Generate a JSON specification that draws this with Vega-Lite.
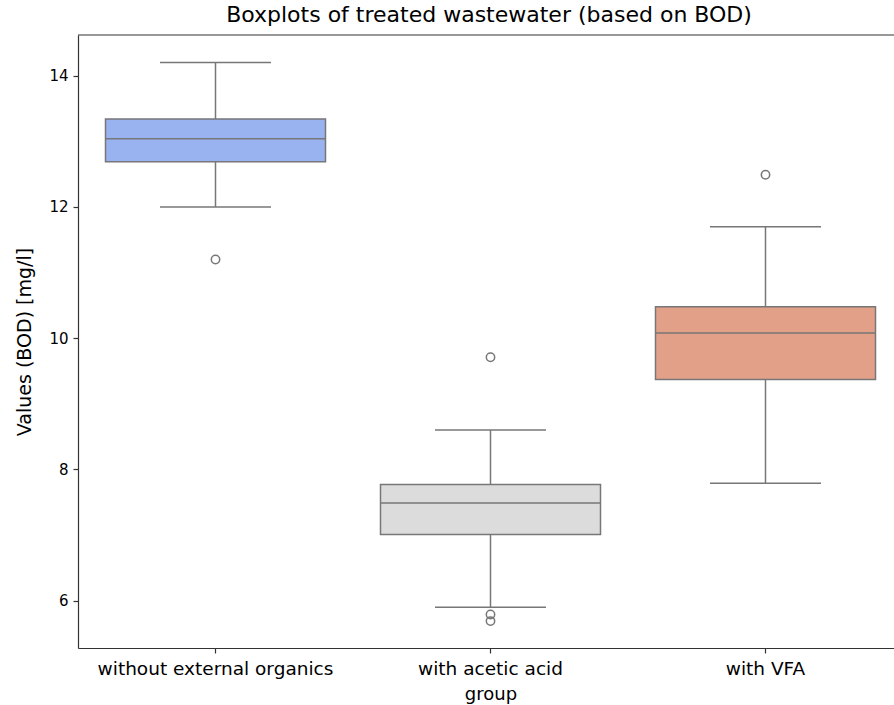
{
  "$schema": "https://vega.github.io/schema/vega-lite/v6.json",
  "width": 816,
  "height": 613,
  "autosize": {"type": "none"},
  "padding": {"left": 78, "top": 35, "right": 0, "bottom": 57},
  "background": "white",
  "title": {"text": "Boxplots of treated wastewater (based on BOD)", "font": "DejaVu Sans", "fontSize": 22, "fontWeight": "normal", "color": "#000000", "anchor": "middle", "offset": 7, "dx": 3},
  "config": {
    "view": {"stroke": null},
    "axis": {"labelFont": "DejaVu Sans", "titleFont": "DejaVu Sans", "labelColor": "#000000", "titleColor": "#000000", "titleFontWeight": "normal", "domainColor": "#333333", "tickColor": "#333333", "domainWidth": 1.2, "tickWidth": 1.2, "tickSize": 5, "grid": false}
  },
  "datasets": {
    "summary": [
      {"group": "without external organics", "lower": 12.0, "q1": 12.69, "median": 13.04, "q3": 13.34, "upper": 14.2},
      {"group": "with acetic acid", "lower": 5.9, "q1": 7.01, "median": 7.49, "q3": 7.77, "upper": 8.6},
      {"group": "with VFA", "lower": 7.79, "q1": 9.37, "median": 10.08, "q3": 10.48, "upper": 11.7}
    ],
    "outliers": [
      {"group": "without external organics", "value": 11.2},
      {"group": "with acetic acid", "value": 9.71},
      {"group": "with acetic acid", "value": 5.79},
      {"group": "with acetic acid", "value": 5.69},
      {"group": "with VFA", "value": 12.49}
    ],
    "frame": [{"top": 14.62}]
  },
  "encoding": {
    "x": {
      "field": "group", "type": "nominal",
      "sort": ["without external organics", "with acetic acid", "with VFA"],
      "scale": {"domain": ["without external organics", "with acetic acid", "with VFA"], "range": [0, 825], "paddingInner": 0, "paddingOuter": 0},
      "axis": {"title": "group", "labelAngle": 0, "labelFontSize": 18.5, "titleFontSize": 18, "labelPadding": 6, "titlePadding": 8, "labelLimit": 0}
    }
  },
  "layer": [
    {
      "data": {"name": "summary"},
      "mark": {"type": "rule", "color": "#777777", "strokeWidth": 1.5},
      "encoding": {
        "y": {"field": "lower", "type": "quantitative", "scale": {"domain": [5.28, 14.62], "nice": false, "zero": false}, "axis": {"title": "Values (BOD) [mg/l]", "values": [6, 8, 10, 12, 14], "format": "d", "labelFontSize": 15, "titleFontSize": 19, "labelPadding": 5, "titlePadding": 14}},
        "y2": {"field": "q1"}
      }
    },
    {
      "data": {"name": "summary"},
      "mark": {"type": "rule", "color": "#777777", "strokeWidth": 1.5},
      "encoding": {
        "y": {"field": "q3", "type": "quantitative"},
        "y2": {"field": "upper"}
      }
    },
    {
      "data": {"name": "summary"},
      "mark": {"type": "tick", "color": "#777777", "size": 111, "thickness": 1.5, "opacity": 1},
      "encoding": {"y": {"field": "lower", "type": "quantitative"}}
    },
    {
      "data": {"name": "summary"},
      "mark": {"type": "tick", "color": "#777777", "size": 111, "thickness": 1.5, "opacity": 1},
      "encoding": {"y": {"field": "upper", "type": "quantitative"}}
    },
    {
      "data": {"name": "summary"},
      "mark": {"type": "bar", "stroke": "#777777", "strokeWidth": 1.5, "width": {"band": 0.8}, "opacity": 1},
      "encoding": {
        "y": {"field": "q1", "type": "quantitative"},
        "y2": {"field": "q3"},
        "color": {"field": "group", "type": "nominal", "scale": {"domain": ["without external organics", "with acetic acid", "with VFA"], "range": ["#98b3f0", "#dcdcdc", "#e3a088"]}, "legend": null}
      }
    },
    {
      "data": {"name": "summary"},
      "mark": {"type": "tick", "color": "#777777", "size": 219, "thickness": 1.5, "opacity": 1},
      "encoding": {"y": {"field": "median", "type": "quantitative"}}
    },
    {
      "data": {"name": "outliers"},
      "mark": {"type": "point", "filled": false, "color": "#777777", "strokeWidth": 1.5, "size": 70, "opacity": 1},
      "encoding": {"y": {"field": "value", "type": "quantitative"}}
    },
    {
      "data": {"name": "frame"},
      "mark": {"type": "rule", "color": "#333333", "strokeWidth": 1.2},
      "encoding": {"y": {"field": "top", "type": "quantitative"}, "x": null}
    }
  ]
}
